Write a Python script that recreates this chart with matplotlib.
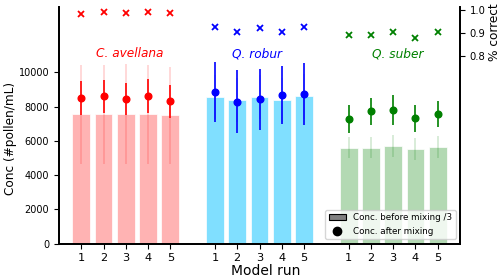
import matplotlib
matplotlib.use("Agg")
import matplotlib.pyplot as plt
import numpy as np
from matplotlib.patches import Patch
from matplotlib.lines import Line2D

runs = [1, 2, 3, 4, 5]
species = ["C. avellana", "Q. robur", "Q. suber"]
colors = ["red", "blue", "green"]
bar_colors = ["#ffb3b3", "#80dfff", "#b3d9b3"]

before_mean = [
    [7540, 7540, 7550, 7550, 7480],
    [8560, 8380, 8560, 8380, 8600],
    [5600, 5600, 5690, 5520, 5630],
]
before_err = [
    [2900, 2880, 2930, 2900, 2860],
    [1300, 1300, 1300, 1300, 1300],
    [620, 600, 660, 620, 640],
]
after_mean = [
    [8500, 8590, 8420, 8620, 8300],
    [8830, 8290, 8420, 8670, 8730],
    [7280, 7720, 7800, 7330, 7570],
]
after_err = [
    [1000, 990, 930, 980, 940],
    [1750, 1830, 1770, 1690, 1800],
    [800, 780, 890, 790, 770],
]
correct = [
    [0.981, 0.989, 0.987, 0.989, 0.984],
    [0.923, 0.904, 0.920, 0.902, 0.926],
    [0.889, 0.890, 0.903, 0.876, 0.904],
]
label_x = [3.16, 8.91, 15.2]

fig = plt.figure(figsize=(5, 2.78), dpi=100)
ax = fig.add_axes([0.118, 0.124, 0.802, 0.851])
ax2 = ax.twinx()

positions_all = []
for g in range(3):
    pos = np.array(runs) + 6 * g
    positions_all.extend(pos)
    ax.bar(pos, before_mean[g], width=0.8, color=bar_colors[g],
           edgecolor="white", linewidth=0.5, zorder=1)
    ax.errorbar(pos, before_mean[g], yerr=before_err[g], fmt="none",
                ecolor=colors[g], alpha=0.18, elinewidth=1.2, zorder=2)
    ax.errorbar(pos, after_mean[g], yerr=after_err[g], fmt="o",
                color=colors[g], ms=4.8, elinewidth=1.2, zorder=3)
    ax.text(label_x[g], 11100, species[g], color=colors[g], style="italic",
            ha="center", va="center", fontsize=8.7)
    ax2.plot(pos, correct[g], "x", color=colors[g], ms=4, mew=1.3)

ax.set_xlim(0, 18)
ax.set_ylim(0, 13820)
ax.set_xticks(positions_all)
ax.set_xticklabels([str(r) for r in runs] * 3, fontsize=8.2)
ax.set_yticks([0, 2000, 4000, 6000, 8000, 10000])
ax.tick_params(axis="y", labelsize=7)
ax.set_ylabel("Conc (#pollen/mL)", fontsize=8.7)
ax.yaxis.set_label_coords(-0.105, 0.446)
ax.set_xlabel("Model run", fontsize=10)
ax.xaxis.set_label_coords(0.515, -0.085)

ax2.set_ylim(-0.019, 1.012)
ax2.set_yticks([0.8, 0.9, 1.0])
ax2.set_yticklabels(["0.8", "0.9", "1.0"])
ax2.tick_params(axis="y", labelsize=7.2)
ax2.set_ylabel("% correct", fontsize=8.7)
ax2.yaxis.set_label_coords(1.07, 0.894)

for a in (ax, ax2):
    a.spines["top"].set_visible(False)
    for s in ("left", "bottom", "right"):
        a.spines[s].set_linewidth(1.3)

handles = [Patch(facecolor="gray", edgecolor="black", linewidth=0.8),
           Line2D([], [], marker="o", color="black", linestyle="none", ms=6)]
ax.legend(handles, ["Conc. before mixing /3", "Conc. after mixing"],
          loc="lower right", fontsize=6.3)

fig.savefig("out.png", dpi=100)
